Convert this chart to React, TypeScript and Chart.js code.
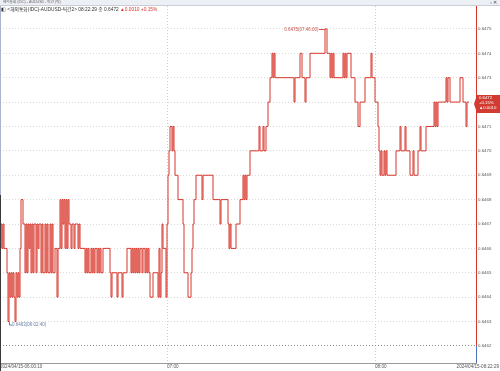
import React, { useEffect, useRef } from 'react';
import { Chart, registerables } from 'chart.js';

Chart.register(...registerables);

// Tick-by-tick price runs: price level and number of consecutive ticks at that level
const runPrices = [
  0.6466, 0.6467, 0.6466, 0.6467, 0.6466, 0.6465, 0.6463, 0.6465, 0.6464, 0.6465,
  0.6464, 0.6465, 0.6464, 0.6463, 0.6465, 0.6464, 0.6465, 0.6464, 0.6466, 0.6468,
  0.6467, 0.6465, 0.6467, 0.6465, 0.6467, 0.6466, 0.6467, 0.6465, 0.6467, 0.6465,
  0.6467, 0.6465, 0.6467, 0.6466, 0.6467, 0.6465, 0.6467, 0.6465, 0.6467, 0.6465,
  0.6467, 0.6465, 0.6467, 0.6465, 0.6467, 0.6465, 0.6466, 0.6464, 0.6466, 0.6468,
  0.6466, 0.6468, 0.6467, 0.6468, 0.6466, 0.6468, 0.6466, 0.6468, 0.6467, 0.6466,
  0.6467, 0.6466, 0.6467, 0.6466, 0.6467, 0.6466, 0.6465, 0.6466, 0.6465, 0.6466,
  0.6465, 0.6466, 0.6465, 0.6466, 0.6465, 0.6466, 0.6465, 0.6466, 0.6465, 0.6466,
  0.6465, 0.6466, 0.6465, 0.6464, 0.6465, 0.6464, 0.6465, 0.6464, 0.6465, 0.6466,
  0.6465, 0.6466, 0.6465, 0.6466, 0.6465, 0.6466, 0.6465, 0.6466, 0.6465, 0.6466,
  0.6465, 0.6466, 0.6465, 0.6466, 0.6465, 0.6466, 0.6465, 0.6464, 0.6465, 0.6464,
  0.6466, 0.6464, 0.6465, 0.6467, 0.6466, 0.6464, 0.6467, 0.6469, 0.6470, 0.6471,
  0.6470, 0.6471, 0.6470, 0.6469, 0.6468, 0.6467, 0.6465, 0.6464, 0.6465, 0.6466,
  0.6467, 0.6468, 0.6469, 0.6468, 0.6469, 0.6468, 0.6467, 0.6468, 0.6467, 0.6466,
  0.6467, 0.6466, 0.6467, 0.6468, 0.6469, 0.6468, 0.6469, 0.6468, 0.6469, 0.6470,
  0.6471, 0.6470, 0.6471, 0.6470, 0.6471, 0.6472, 0.6473, 0.6474, 0.6473, 0.6474,
  0.6473, 0.6472, 0.6473, 0.6474, 0.6473, 0.6472, 0.6473, 0.6474, 0.6475, 0.6474,
  0.6473, 0.6474, 0.6473, 0.6474, 0.6473, 0.6474, 0.6473, 0.6474, 0.6473, 0.6474,
  0.6473, 0.6472, 0.6471, 0.6472, 0.6473, 0.6474, 0.6473, 0.6472, 0.6471, 0.6470,
  0.6469, 0.6470, 0.6469, 0.6470, 0.6469, 0.6470, 0.6469, 0.6470, 0.6471, 0.6470,
  0.6471, 0.6470, 0.6469, 0.6470, 0.6469, 0.6470, 0.6471, 0.6470, 0.6471, 0.6472,
  0.6471, 0.6472, 0.6471, 0.6472, 0.6473, 0.6472, 0.6473, 0.6472, 0.6473, 0.6472,
  0.6471, 0.6472,
];
const runTicks = [
  1, 1, 1, 1, 3, 1, 1, 1, 1, 1,
  1, 1, 1, 1, 1, 1, 1, 1, 1, 2,
  2, 1, 1, 1, 1, 1, 1, 1, 1, 1,
  2, 1, 1, 1, 2, 1, 1, 2, 1, 1,
  1, 2, 1, 1, 1, 2, 2, 1, 2, 1,
  1, 1, 1, 1, 1, 1, 1, 1, 2, 1,
  2, 1, 3, 1, 1, 5, 1, 1, 1, 1,
  2, 1, 1, 1, 1, 2, 1, 1, 1, 1,
  2, 7, 1, 1, 5, 1, 4, 1, 4, 4,
  1, 1, 1, 1, 1, 1, 1, 1, 1, 2,
  1, 2, 1, 1, 1, 1, 1, 3, 5, 1,
  1, 1, 1, 1, 3, 1, 1, 1, 1, 2,
  1, 1, 1, 3, 5, 1, 4, 3, 1, 1,
  1, 2, 6, 1, 10, 7, 1, 7, 1, 1,
  1, 5, 4, 3, 1, 1, 1, 1, 3, 9,
  1, 3, 1, 2, 2, 2, 2, 1, 1, 1,
  19, 1, 5, 2, 3, 1, 4, 15, 2, 3,
  1, 1, 1, 1, 9, 1, 1, 1, 1, 4,
  4, 3, 2, 5, 6, 1, 3, 3, 1, 1,
  1, 1, 2, 1, 1, 1, 9, 4, 1, 4,
  1, 4, 3, 1, 4, 2, 1, 5, 8, 1,
  1, 1, 1, 8, 1, 1, 2, 10, 3, 3,
  1, 3,
];

const yTickValues = [
  0.6462, 0.6463, 0.6464, 0.6465, 0.6466, 0.6467, 0.6468,
  0.6469, 0.6470, 0.6471, 0.6472, 0.6473, 0.6474, 0.6475,
];
const xLabelTicks = [0, 167, 375];
const xLabels = ['2024/04/15-06:00:10', '07:00', '08:00'];
const lastTimeLabel = '2024/04/15-08:22:29';

const prevClose = 0.6462;
const lastPrice = 0.6472;
const changeText = '▲0.0010';
const pctText = '+0.15%';
const highLabel = '0.6475(07:46:00)';
const lowLabel = '0.6463(06:02:40)';

const RED = '#d8352b';
const BLUE = '#4a72b8';
const FONT = '"Liberation Sans", Arial, "Noto Sans CJK KR", sans-serif';

function buildPoints() {
  const pts: { x: number; y: number }[] = [];
  let idx = 0;
  for (let r = 0; r < runPrices.length; r++) {
    for (let k = 0; k < runTicks[r]; k++) {
      pts.push({ x: idx, y: runPrices[r] });
      idx++;
    }
  }
  return pts;
}

const overlayPlugin = {
  id: 'overlay',
  afterDatasetsDraw(chart: any) {
    const { ctx, chartArea, scales } = chart;
    const xs = scales.x;
    const ys = scales.y;
    const pts = chart.data.datasets[0].data as { x: number; y: number }[];
    ctx.save();
    // right axis line: red above previous close, blue below
    const ax = Math.round(chartArea.right) + 0.5;
    const yPrev = ys.getPixelForValue(prevClose);
    ctx.lineWidth = 1;
    ctx.strokeStyle = RED;
    ctx.beginPath();
    ctx.moveTo(ax, chartArea.top);
    ctx.lineTo(ax, yPrev);
    ctx.stroke();
    ctx.strokeStyle = BLUE;
    ctx.beginPath();
    ctx.moveTo(ax, yPrev);
    ctx.lineTo(ax, chartArea.bottom);
    ctx.stroke();

    // left frame edge
    ctx.strokeStyle = '#a9b6cc';
    ctx.beginPath();
    ctx.moveTo(0.5, 0);
    ctx.lineTo(0.5, 195);
    ctx.stroke();
    ctx.strokeStyle = '#3a3a3a';
    ctx.beginPath();
    ctx.moveTo(0.5, 195);
    ctx.lineTo(0.5, 371);
    ctx.stroke();

    // high / low markers
    let hi = pts[0], lo = pts[0];
    for (const p of pts) {
      if (p.y > hi.y) hi = p;
      if (p.y < lo.y) lo = p;
    }
    ctx.font = `4.5px ${FONT}`;
    ctx.textBaseline = 'middle';
    const hx = xs.getPixelForValue(hi.x);
    const hy = ys.getPixelForValue(hi.y);
    ctx.strokeStyle = '#d0584e';
    ctx.beginPath();
    ctx.moveTo(hx - 6, Math.round(hy) + 0.5);
    ctx.lineTo(hx, Math.round(hy) + 0.5);
    ctx.stroke();
    ctx.fillStyle = '#c9554b';
    ctx.textAlign = 'right';
    ctx.fillText(highLabel, hx - 6.5, hy + 1);

    const lx = xs.getPixelForValue(lo.x);
    const ly = ys.getPixelForValue(lo.y);
    ctx.strokeStyle = '#7083a6';
    ctx.beginPath();
    ctx.moveTo(lx + 1.5, ly);
    ctx.lineTo(lx + 1.5, ly + 3.5);
    ctx.lineTo(lx + 4, ly + 3.5);
    ctx.stroke();
    ctx.fillStyle = '#6a7ea2';
    ctx.textAlign = 'left';
    ctx.fillText(lowLabel, lx + 4, ly + 3.5);

    // current price box
    const py = ys.getPixelForValue(lastPrice);
    const bl = chartArea.right + 1;
    ctx.fillStyle = '#d23b31';
    ctx.beginPath();
    ctx.moveTo(chartArea.right - 2, py + 2);
    ctx.lineTo(bl, py - 7);
    ctx.lineTo(500, py - 7);
    ctx.lineTo(500, py + 11);
    ctx.lineTo(bl, py + 11);
    ctx.closePath();
    ctx.fill();
    ctx.fillStyle = '#ffffff';
    ctx.font = `4.3px ${FONT}`;
    ctx.textAlign = 'left';
    ctx.fillText(lastPrice.toFixed(4), bl + 2, py - 4);
    ctx.fillText(pctText, bl + 2, py + 1);
    ctx.fillText(changeText, bl + 2, py + 6);

    // last time label, right-aligned at the window edge
    ctx.fillStyle = '#555';
    ctx.font = `4.6px ${FONT}`;
    ctx.textAlign = 'right';
    ctx.fillText(lastTimeLabel, 499, chartArea.bottom + 3.8);
    ctx.restore();
  },
};

export default function App() {
  const ref = useRef<HTMLCanvasElement>(null);
  useEffect(() => {
    const canvas = ref.current;
    if (!canvas) return;
    const points = buildPoints();
    const chart = new Chart(canvas, {
      type: 'line',
      data: {
        datasets: [
          {
            data: points,
            borderColor: RED,
            borderWidth: 1,
            pointRadius: 0,
            stepped: true,
            fill: false,
          },
        ],
      },
      options: {
        responsive: false,
        animation: false,
        events: [],
        layout: { padding: { top: 6, left: 0, right: 0, bottom: 0 } },
        plugins: { legend: { display: false }, tooltip: { enabled: false }, title: { display: false } },
        scales: {
          x: {
            type: 'linear',
            min: 0,
            max: 476,
            position: 'bottom',
            afterBuildTicks: (s: any) => {
              s.ticks = xLabelTicks.map((v) => ({ value: v }));
            },
            afterFit: (s: any) => {
              s.height = 8;
            },
            ticks: {
              autoSkip: false,
              maxRotation: 0,
              minRotation: 0,
              align: 'start',
              padding: 0,
              color: '#555',
              font: { size: 4.6, family: FONT, lineHeight: 1.6 },
              callback: (v: any) => {
                const i = xLabelTicks.indexOf(Number(v));
                return i >= 0 ? xLabels[i] : '';
              },
            },
            grid: {
              drawTicks: false,
              lineWidth: 1,
              color: (c: any) => (c.tick && c.tick.value === 0 ? 'rgba(0,0,0,0)' : '#cfcfcf'),
            },
            border: { display: true, color: '#9a9a9a', width: 1, dash: [1, 2] },
          },
          y: {
            type: 'linear',
            position: 'right',
            min: 0.64613,
            max: 0.647594,
            afterBuildTicks: (s: any) => {
              s.ticks = yTickValues.map((v) => ({ value: v }));
            },
            afterFit: (s: any) => {
              s.width = 24;
            },
            ticks: {
              padding: 2,
              color: '#555',
              font: { size: 4.4, family: FONT },
              callback: (v: any) => Number(v).toFixed(4),
            },
            grid: {
              drawTicks: false,
              lineWidth: 1,
              color: (c: any) => (c.tick && c.tick.value === prevClose ? '#8a8a8a' : '#dadada'),
            },
            border: { display: false, dash: [1, 2] },
          },
        },
      },
      plugins: [overlayPlugin],
    } as any);
    return () => chart.destroy();
  }, []);

  return (
    <div style={{ position: 'fixed', left: 0, top: 0, width: 500, height: 371, background: '#fff', overflow: 'hidden', fontFamily: FONT }}>
      <canvas ref={ref} width={500} height={371} style={{ position: 'absolute', left: 0, top: 0, width: 500, height: 371 }} />
      <div style={{ position: 'absolute', left: 0, top: 0, width: 500, height: 5, background: '#eceff4', borderBottom: '1px solid #c8cdd6' }}>
        <span style={{ position: 'absolute', left: 3, top: 0, fontSize: '3.6px', lineHeight: '5px', color: '#666', whiteSpace: 'nowrap' }}>
          해외통화 (IDC) - AUDUSD - 틱간 (틱)
        </span>
        <span style={{ position: 'absolute', right: 3, top: 0, fontSize: '4.5px', lineHeight: '5px', color: '#445', whiteSpace: 'nowrap' }}>
          ▫ ✕
        </span>
      </div>
      <div style={{ position: 'absolute', left: 1, top: 7, fontSize: '4.8px', lineHeight: '5px', color: '#333', whiteSpace: 'nowrap' }}>
        ◧ &lt;해외통화(IDC)-AUDUSD-틱간2&gt; 08:22:29 종 0.6472{' '}
        <span style={{ color: RED }}>
          {changeText} {pctText}
        </span>
      </div>
    </div>
  );
}
